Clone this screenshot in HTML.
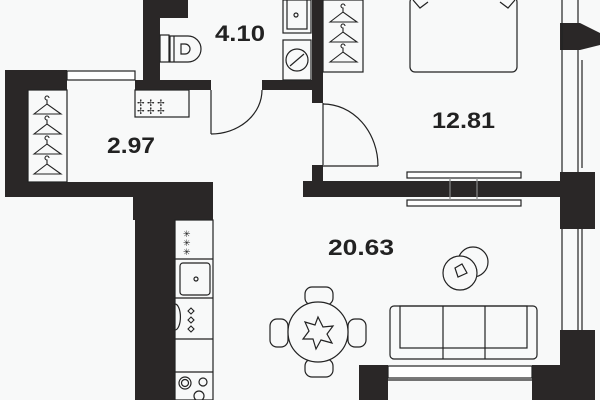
<!DOCTYPE html>
<html><head><style>
html,body{margin:0;padding:0;background:#f8f9f9;}
svg{display:block}
text{font-family:"Liberation Sans",sans-serif;font-weight:bold;fill:#222;font-size:22px}
</style></head><body>
<svg width="600" height="400" viewBox="0 0 600 400" xmlns="http://www.w3.org/2000/svg">
<rect width="600" height="400" fill="#f8f9f9"/>
<g fill="#2a2727">
<rect x="143" y="0" width="45" height="18"/>
<rect x="143" y="0" width="17" height="90"/>
<rect x="135" y="80" width="76" height="10"/>
<rect x="262" y="80" width="61" height="10"/>
<rect x="312" y="0" width="11" height="103"/>
<rect x="312" y="165" width="11" height="25"/>
<rect x="5" y="70" width="23" height="127"/>
<rect x="5" y="70" width="62" height="20"/>
<rect x="5" y="182" width="208" height="15"/>
<rect x="133" y="182" width="80" height="38"/>
<rect x="135" y="182" width="40" height="218"/>
<rect x="303" y="181" width="257" height="16"/>
<rect x="560" y="172" width="35" height="57"/>
<path d="M560 23 L580 23 L600 33 L600 45 L580 50 L560 50 Z"/>
<rect x="560" y="330" width="35" height="70"/>
<rect x="359" y="365" width="29" height="35"/>
<rect x="532" y="365" width="28" height="35"/>
</g>
<g fill="none" stroke="#222" stroke-width="1.2">
<rect x="67" y="71" width="68" height="9" fill="#fff"/>
<line x1="562" y1="0" x2="562" y2="172"/><line x1="578" y1="0" x2="578" y2="23"/><line x1="578" y1="50" x2="578" y2="172"/>
<line x1="582" y1="60" x2="582" y2="168"/>
<line x1="562" y1="229" x2="562" y2="330"/><line x1="578" y1="229" x2="578" y2="330"/><line x1="582" y1="229" x2="582" y2="330"/>
<rect x="388" y="366" width="144" height="12" fill="#fff"/><line x1="388" y1="380" x2="532" y2="380"/>
<rect x="407" y="172" width="114" height="6" fill="#fff"/><rect x="407" y="200" width="114" height="6" fill="#fff"/>
<line x1="450" y1="178" x2="450" y2="200" stroke="#888"/><line x1="477" y1="178" x2="477" y2="200" stroke="#888"/>
<line x1="211" y1="90" x2="211" y2="134"/>
<path d="M211 134 A51 44 0 0 0 262 90"/>
<line x1="323" y1="103" x2="323" y2="165"/>
<path d="M323 104 A55 62 0 0 1 378 166"/><line x1="323" y1="166" x2="378" y2="166"/>
<rect x="28" y="90" width="39" height="92"/>
<rect x="135" y="90" width="54" height="27"/>
<rect x="283" y="0" width="28" height="33"/><rect x="287" y="-2" width="20" height="31"/>
<circle cx="296" cy="15" r="2"/>
<rect x="283" y="40" width="28" height="40"/><circle cx="297" cy="60" r="11"/><line x1="290" y1="66" x2="304" y2="54"/>
<rect x="160" y="35" width="9" height="27"/><path d="M170 36 L188 36 A13 13 0 0 1 188 62 L170 62 Z"/><line x1="174" y1="36" x2="174" y2="62"/>
<path d="M181 44 L185 44 A5 5 0 0 1 185 54 L181 54 Z"/>
<rect x="323" y="0" width="40" height="72"/>
<rect x="410" y="-3" width="107" height="75" rx="5"/>
<path d="M413 0 L420 8 L428 2"/><path d="M500 2 L508 8 L515 0"/>
<rect x="175" y="220" width="38" height="180"/>
<line x1="175" y1="259" x2="213" y2="259"/><line x1="175" y1="298" x2="213" y2="298"/><line x1="175" y1="339" x2="213" y2="339"/><line x1="175" y1="372" x2="213" y2="372"/>
<rect x="180" y="263" width="30" height="32" rx="3"/><circle cx="196" cy="279" r="2"/>
<path d="M175 304 A5 12 0 0 1 175 330"/>
<circle cx="185" cy="383" r="6"/><circle cx="185" cy="383" r="3.5"/><circle cx="203" cy="382" r="4"/><circle cx="199" cy="396" r="5"/>
<rect x="305" y="287" width="28" height="18" rx="7"/><rect x="305" y="359" width="28" height="18" rx="7"/>
<rect x="270" y="319" width="18" height="28" rx="7"/><rect x="348" y="319" width="18" height="28" rx="7"/>
<circle cx="318" cy="332" r="30" fill="#f8f9f9"/>
<path d="M318 317 L323 327 L333 326 L327 334 L332 343 L321 340 L316 349 L313 339 L303 339 L309 331 L305 322 L315 325 Z"/>
<rect x="390" y="306" width="147" height="53" rx="4"/>
<rect x="400" y="306" width="127" height="42"/>
<line x1="443" y1="306" x2="443" y2="359"/><line x1="485" y1="306" x2="485" y2="359"/>
<circle cx="473" cy="262" r="15"/>
<circle cx="460" cy="273" r="17" fill="#f8f9f9"/>
<path d="M455 268 L462 264 L467 273 L458 277 Z"/>
</g>
<g font-family="DejaVu Sans" fill="#222">
<text x="137" y="106" style="font-size:9px;font-weight:normal">✢ ✢ ✢</text>
<text x="137" y="114" style="font-size:9px;font-weight:normal">✢ ✢ ✢</text>
<text x="183" y="237" style="font-size:9px;font-weight:normal">✳</text>
<text x="183" y="246" style="font-size:9px;font-weight:normal">✳</text>
<text x="183" y="255" style="font-size:9px;font-weight:normal">✳</text>
</g>
<g fill="none" stroke="#222" stroke-width="1.1">
<path d="M34 114 L47 104 L61 114 Z M47 104 v-4 a2 2 0 1 1 2 -2"/>
<path d="M34 134 L47 124 L61 134 Z M47 124 v-4 a2 2 0 1 1 2 -2"/>
<path d="M34 154 L47 144 L61 154 Z M47 144 v-4 a2 2 0 1 1 2 -2"/>
<path d="M34 174 L47 164 L61 174 Z M47 164 v-4 a2 2 0 1 1 2 -2"/>
<path d="M330 22 L343 12 L357 22 Z M343 12 v-4 a2 2 0 1 1 2 -2"/>
<path d="M330 42 L343 32 L357 42 Z M343 32 v-4 a2 2 0 1 1 2 -2"/>
<path d="M330 62 L343 52 L357 62 Z M343 52 v-4 a2 2 0 1 1 2 -2"/>
<path d="M188 311 l3 -3 l3 3 l-3 3z M188 320 l3 -3 l3 3 l-3 3z M188 329 l3 -3 l3 3 l-3 3z"/>
</g>
<text x="215" y="41" textLength="50" lengthAdjust="spacingAndGlyphs">4.10</text>
<text x="107" y="153" textLength="48" lengthAdjust="spacingAndGlyphs">2.97</text>
<text x="432" y="128" textLength="63" lengthAdjust="spacingAndGlyphs">12.81</text>
<text x="328" y="255" textLength="66" lengthAdjust="spacingAndGlyphs">20.63</text>
</svg>
</body></html>
